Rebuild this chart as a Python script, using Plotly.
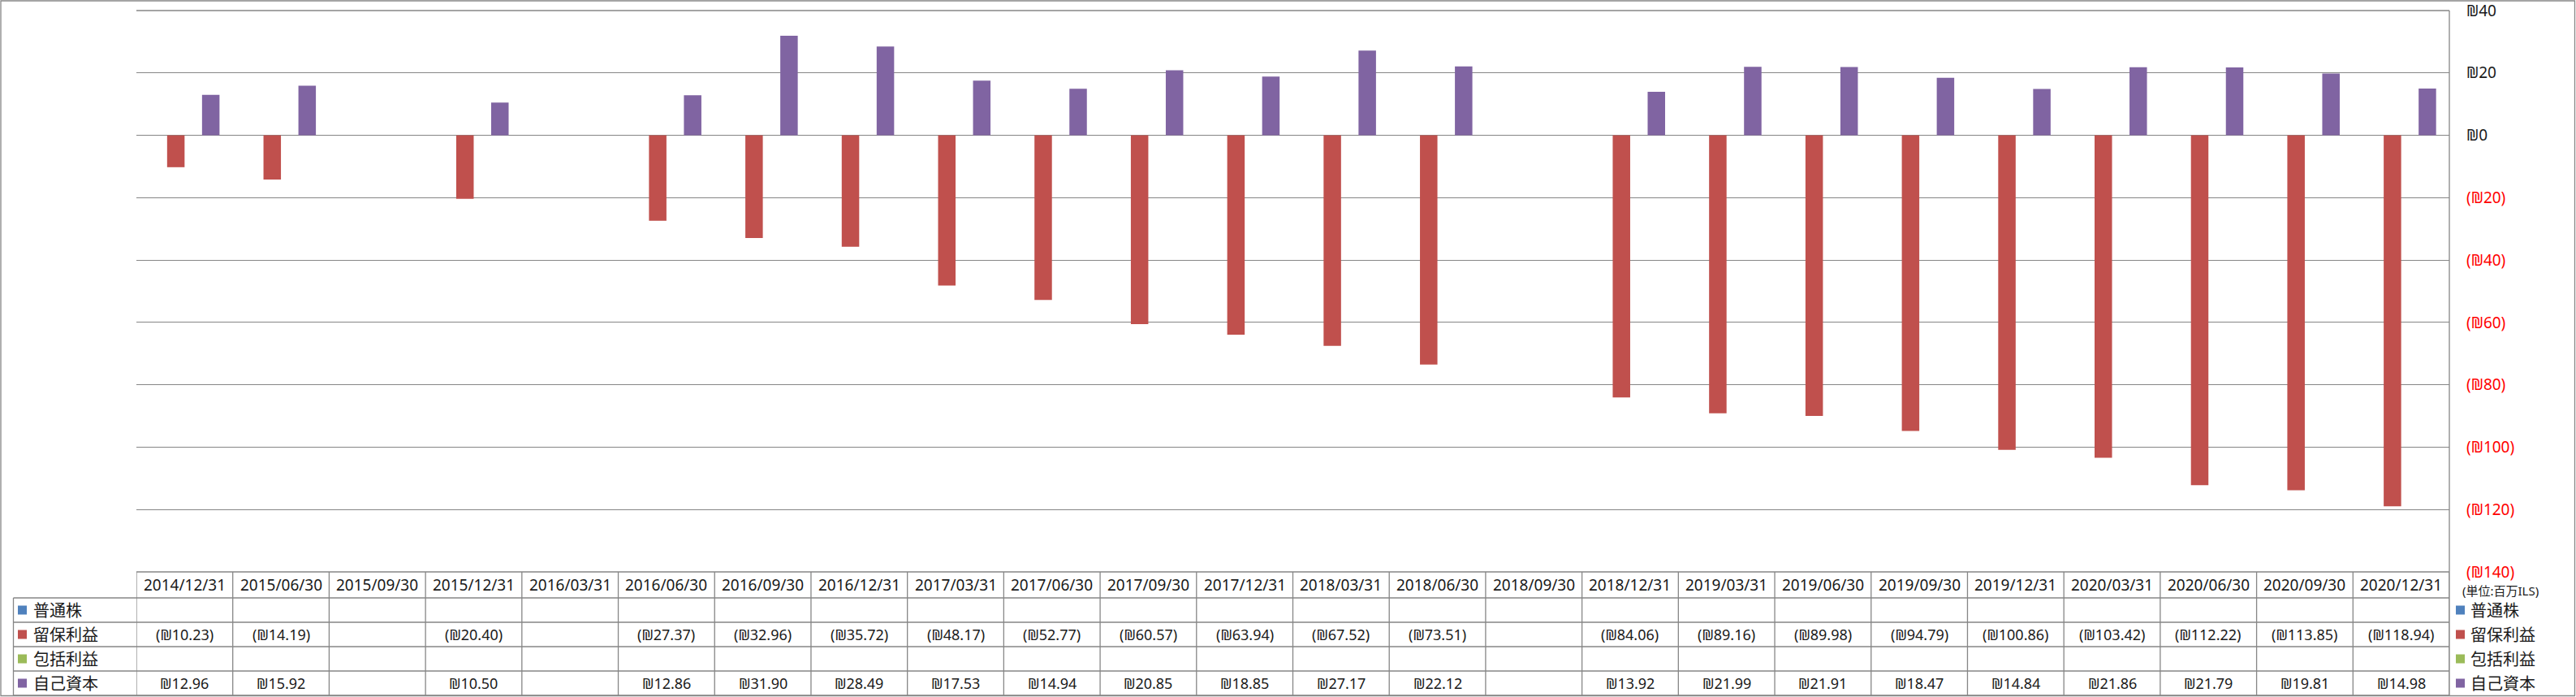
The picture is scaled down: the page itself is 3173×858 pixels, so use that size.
import plotly.graph_objects as go

# quarter-end dates (table header)
dates = ['2014/12/31', '2015/06/30', '2015/09/30', '2015/12/31', '2016/03/31', '2016/06/30',
         '2016/09/30', '2016/12/31', '2017/03/31', '2017/06/30', '2017/09/30', '2017/12/31',
         '2018/03/31', '2018/06/30', '2018/09/30', '2018/12/31', '2019/03/31', '2019/06/30',
         '2019/09/30', '2019/12/31', '2020/03/31', '2020/06/30', '2020/09/30', '2020/12/31']

common_stock = [None] * 24
retained_earnings = [-10.23, -14.19, None, -20.40, None, -27.37, -32.96, -35.72, -48.17, -52.77,
                     -60.57, -63.94, -67.52, -73.51, None, -84.06, -89.16, -89.98, -94.79, -100.86,
                     -103.42, -112.22, -113.85, -118.94]
comprehensive_income = [None] * 24
equity = [12.96, 15.92, None, 10.50, None, 12.86, 31.90, 28.49, 17.53, 14.94,
          20.85, 18.85, 27.17, 22.12, None, 13.92, 21.99, 21.91, 18.47, 14.84,
          21.86, 21.79, 19.81, 14.98]

series_names = ['普通株', '留保利益', '包括利益', '自己資本']
series_colors = ['#4F81BD', '#C0504D', '#9BBB59', '#8064A2']
series_values = [common_stock, retained_earnings, comprehensive_income, equity]

y_ticks = [40, 20, 0, -20, -40, -60, -80, -100, -120, -140]
unit_label = '(単位:百万ILS)'

W, H = 3173, 858
L, R, T, B = 168, 3017, 13, 704   # plot area in pixels
GRID = '#868686'
FONT = 'Noto Sans, Noto Sans CJK JP'


def px_x(x):
    return (x - L) / (R - L)


def px_y(y):
    return (B - y) / (B - T)


def money(v):
    if v is None:
        return ''
    return f'(₪{-v:.2f})' if v < 0 else f'₪{v:.2f}'


def tick_label(v):
    if v < 0:
        return f'<span style="color:#FF0000">(₪{-v})</span>'
    return f'₪{v}'


fig = go.Figure()
for name, color, vals in zip(series_names, series_colors, series_values):
    fig.add_trace(go.Bar(x=dates, y=vals, name=name, marker_color=color,
                         marker_line_width=0, showlegend=False))

shapes = []
annotations = []
line = dict(color=GRID, width=1.3)

# outer chart border
shapes.append(dict(type='rect', xref='paper', yref='paper',
                   x0=px_x(1), x1=px_x(W - 1.5), y0=px_y(H - 1.5), y1=px_y(1), line=line))
# top gridline
shapes.append(dict(type='line', xref='paper', yref='paper', x0=0, x1=1, y0=1, y1=1, line=line))

# data table
row_edges = [704, 736, 766, 796, 826, 856]
shapes.append(dict(type='line', xref='paper', yref='paper', x0=0, x1=1,
                   y0=px_y(704), y1=px_y(704), line=line))
for y in row_edges[1:]:
    shapes.append(dict(type='line', xref='paper', yref='paper', x0=px_x(16.5), x1=1,
                       y0=px_y(y), y1=px_y(y), line=line))
shapes.append(dict(type='line', xref='paper', yref='paper', x0=px_x(16.5), x1=px_x(16.5),
                   y0=px_y(856), y1=px_y(736), line=line))
for i in range(len(dates) + 1):
    shapes.append(dict(type='line', xref='x', yref='paper', x0=i - 0.5, x1=i - 0.5,
                       y0=px_y(856), y1=px_y(704), line=line))
# right axis line continues down through the table
shapes.append(dict(type='line', xref='paper', yref='paper', x0=1, x1=1,
                   y0=px_y(856), y1=1, line=line))

cell = dict(showarrow=False, xanchor='center', yanchor='middle', xref='x', yref='paper')
for d in dates:
    annotations.append(dict(cell, x=d, y=px_y(720), text=d, font=dict(size=19)))

row_centers = [751, 781, 811, 841]
for name, color, vals, yc in zip(series_names, series_colors, series_values, row_centers):
    for d, v in zip(dates, vals):
        if v is not None:
            annotations.append(dict(cell, x=d, y=px_y(yc), text=money(v), font=dict(size=18)))
    # legend keys left of the table and right of the axis
    for sx, tx in [(22, 39), (3025, 3041)]:
        shapes.append(dict(type='rect', xref='paper', yref='paper',
                           x0=px_x(sx), x1=px_x(sx + 11), y0=px_y(yc + 5.5), y1=px_y(yc - 5.5),
                           fillcolor=color, line=dict(width=0)))
        annotations.append(dict(x=px_x(tx), xref='paper', y=px_y(yc), yref='paper', text=name,
                                xanchor='left', yanchor='middle', showarrow=False,
                                font=dict(size=20)))

annotations.append(dict(x=px_x(3031), xref='paper', y=px_y(727), yref='paper', text=unit_label,
                        xanchor='left', yanchor='middle', showarrow=False, font=dict(size=15)))

fig.update_layout(
    width=W, height=H,
    margin=dict(l=L, r=W - R, t=T, b=H - B, pad=0, autoexpand=False),
    barmode='group', bargap=0.275, bargroupgap=0,
    paper_bgcolor='white', plot_bgcolor='white',
    font=dict(family=FONT, size=18, color='#1a1a1a'),
    shapes=shapes, annotations=annotations,
    xaxis=dict(type='category', range=[-0.5, len(dates) - 0.5], showticklabels=False,
               showgrid=False, zeroline=False, showline=False, ticks='', automargin=False),
    yaxis=dict(side='right', range=[-140, 40], tickvals=y_ticks,
               ticktext=[tick_label(v) for v in y_ticks],
               showgrid=True, gridcolor=GRID, gridwidth=1.3, zeroline=False,
               showline=False, ticks='', ticklabelstandoff=20, automargin=False,
               ticklabeloverflow='allow',
               tickfont=dict(size=19, color='#1a1a1a')),
)

# drop the default 8px body margin so the chart sits at the window's corner
fig.write_html("out.html", config={'displayModeBar': False},
               post_script="document.body.style.margin='0';")
